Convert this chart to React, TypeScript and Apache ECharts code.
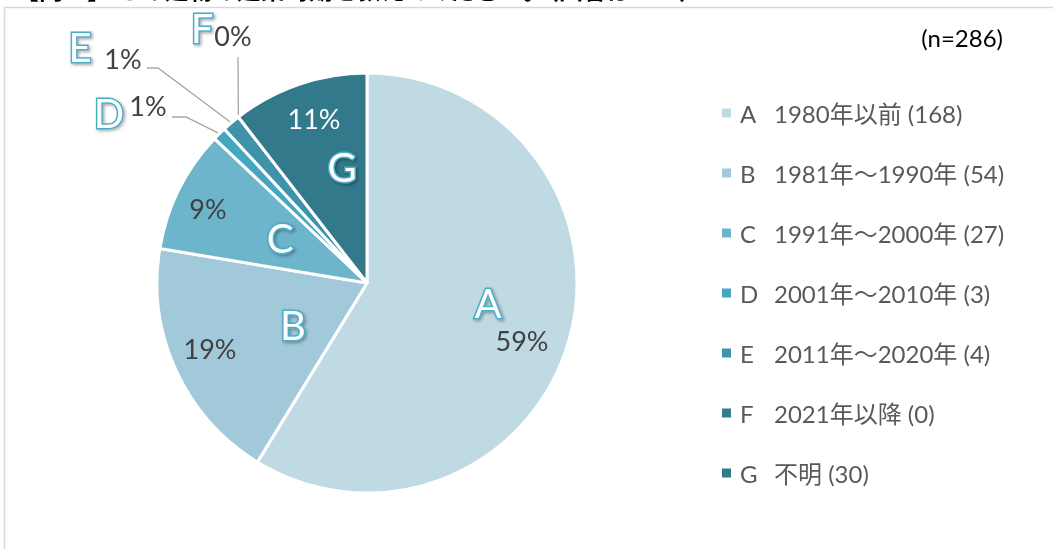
import React, { useEffect, useRef } from 'react';
import * as echarts from 'echarts';

// ---- data ----
const categories = ['A', 'B', 'C', 'D', 'E', 'F', 'G'];
const periods = ['1980年以前', '1981年～1990年', '1991年～2000年', '2001年～2010年', '2011年～2020年', '2021年以降', '不明'];
const counts = [168, 54, 27, 3, 4, 0, 30];
const percentLabels = ['59%', '19%', '9%', '1%', '1%', '0%', '11%'];
const sampleLabel = '(n=286)';
const titleText = '【問７】 この建物の建築時期を教えてください。（回答は１つ）';

// ---- styles / layout ----
const colors = ['#c0dae4', '#a1c9da', '#6db5cb', '#45a6c1', '#3e92aa', '#357d8f', '#32798b'];
const pctColors = ['#404040', '#404040', '#404040', '#404040', '#404040', '#404040', '#ffffff'];
const CX = 367;
const CY = 283;
const R = 210;
const FONT = 'Lato, "Noto Sans CJK JP", sans-serif';

// label anchor points (label placement only)
const pctPos: number[][] = [[522, 340], [210, 348], [208, 208], [148, 105], [123, 58], [233, 35], [314, 118]];
const letterPos: number[][] = [[488, 303], [293, 325], [280, 238], [109, 113], [80, 47], [202, 28], [342, 167]];
const leader: Record<number, number[][]> = {
  3: [[186, 117], [172, 117]],
  4: [[158, 68], [147, 68]],
  5: [[238, 57], [238, 57]],
};
const outsideIdx = [3, 4, 5];

export default function App() {
  const ref = useRef<HTMLDivElement>(null);
  useEffect(() => {
    const chart = echarts.init(ref.current!, null, { renderer: 'svg' });
    const mainData = categories.map((c, i) => {
      const outside = outsideIdx.includes(i);
      return {
        name: c,
        value: counts[i],
        itemStyle: { color: colors[i] },
        label: { position: outside ? 'outside' : 'inside', color: pctColors[i] },
        labelLine: { show: outside },
      };
    });
    const letterData = categories.map((c, i) => ({
      name: c,
      value: counts[i],
      itemStyle: { color: 'rgba(0,0,0,0)' },
    }));
    const option: any = {
      animation: false,
      graphic: [
        {
          type: 'text',
          left: 15,
          top: -23,
          silent: true,
          style: { text: titleText, fontSize: 24, fontWeight: 'bold', fontFamily: FONT, fill: '#000' },
        },
        {
          type: 'line',
          silent: true,
          shape: { x1: 4, y1: 7.5, x2: 1053, y2: 7.5 },
          style: { stroke: '#d9d9d9', lineWidth: 1.5 },
        },
        {
          type: 'line',
          silent: true,
          shape: { x1: 4.5, y1: 7, x2: 4.5, y2: 549 },
          style: { stroke: '#d9d9d9', lineWidth: 1.5 },
        },
        {
          type: 'text',
          right: 50,
          top: 25,
          silent: true,
          style: { text: sampleLabel, fontSize: 24, fontFamily: FONT, fill: '#000' },
        },
      ],
      legend: {
        orient: 'vertical',
        left: 720,
        top: 101,
        padding: 0,
        itemWidth: 11,
        itemHeight: 11,
        itemGap: 36,
        icon: 'rect',
        selectedMode: false,
        data: categories.map((c, i) => ({ name: c, itemStyle: { color: colors[i] } })),
        formatter: (name: string) => {
          const i = categories.indexOf(name);
          return `{l|${name}}{t|${periods[i]} (${counts[i]})}`;
        },
        textStyle: {
          fontFamily: FONT,
          fontSize: 24,
          color: '#595959',
          lineHeight: 24,
          rich: {
            l: { width: 34, padding: [0, 0, 0, 3], fontSize: 24, fontFamily: FONT, color: '#595959' },
            t: { fontSize: 24, fontFamily: FONT, color: '#595959' },
          },
        },
      },
      series: [
        {
          type: 'pie',
          center: [CX, CY],
          radius: [0, R],
          startAngle: 90,
          clockwise: true,
          avoidLabelOverlap: false,
          emphasis: { disabled: true },
          itemStyle: { borderColor: '#ffffff', borderWidth: 3 },
          label: {
            show: true,
            formatter: (p: any) => percentLabels[p.dataIndex],
            fontSize: 27,
            fontFamily: FONT,
          },
          labelLine: { length: 10, length2: 10, lineStyle: { color: '#a6a6a6', width: 1.3 } },
          labelLayout: (p: any) => {
            const i = p.dataIndex;
            const res: any = { x: pctPos[i][0], y: pctPos[i][1], align: 'center', verticalAlign: 'middle' };
            if (leader[i] && p.labelLinePoints) {
              res.labelLinePoints = [p.labelLinePoints[0], leader[i][0], leader[i][1]];
            }
            return res;
          },
          data: mainData,
        },
        {
          type: 'pie',
          center: [CX, CY],
          radius: [0, R],
          startAngle: 90,
          clockwise: true,
          silent: true,
          avoidLabelOverlap: false,
          emphasis: { disabled: true },
          itemStyle: { borderWidth: 0 },
          label: {
            show: true,
            position: 'inside',
            formatter: '{b}',
            fontSize: 40,
            fontFamily: FONT,
            color: '#ffffff',
            textBorderColor: '#4bacc6',
            textBorderWidth: 3,
            textShadowColor: 'rgba(0,0,0,0.35)',
            textShadowBlur: 3,
            textShadowOffsetX: 1.5,
            textShadowOffsetY: 1.5,
          },
          labelLine: { show: false },
          labelLayout: (p: any) => {
            const i = p.dataIndex;
            return { x: letterPos[i][0], y: letterPos[i][1], align: 'center', verticalAlign: 'middle' };
          },
          data: letterData,
        },
      ],
    };
    chart.setOption(option);
    return () => chart.dispose();
  }, []);
  return <div ref={ref} style={{ position: 'fixed', left: 0, top: 0, width: 1053, height: 549 }} />;
}
